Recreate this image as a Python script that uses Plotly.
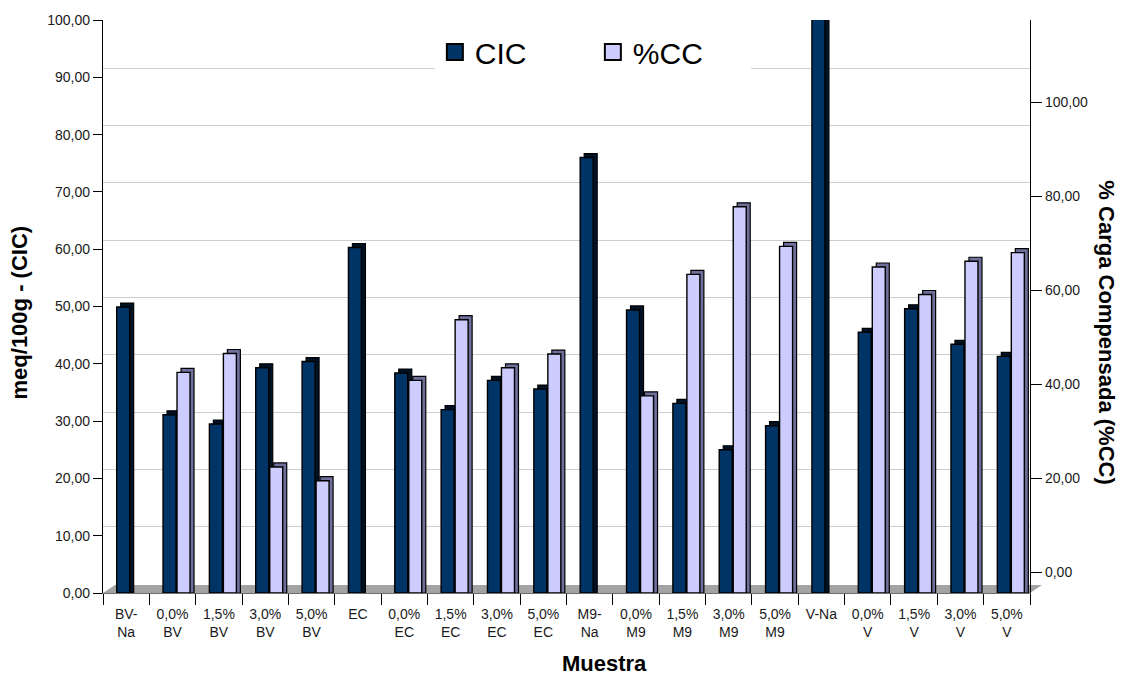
import plotly.graph_objects as go

# ---------------- data ----------------
categories = ["BV-<br>Na", "0,0%<br>BV", "1,5%<br>BV", "3,0%<br>BV", "5,0%<br>BV", "EC",
              "0,0%<br>EC", "1,5%<br>EC", "3,0%<br>EC", "5,0%<br>EC", "M9-<br>Na",
              "0,0%<br>M9", "1,5%<br>M9", "3,0%<br>M9", "5,0%<br>M9", "V-Na",
              "0,0%<br>V", "1,5%<br>V", "3,0%<br>V", "5,0%<br>V"]
cic = [49.9, 31.1, 29.5, 39.3, 40.4, 60.3,
       38.4, 32.0, 37.1, 35.6, 76.0,
       49.4, 33.1, 25.0, 29.2, 100.3,
       45.5, 49.6, 43.4, 41.3]
cc_pct = [None, 38.5, 41.8, 22.0, 19.6, None,
          37.1, 47.7, 39.3, 41.7, None,
          34.4, 55.6, 67.4, 60.5, None,
          56.9, 52.1, 57.9, 59.4]
left_ticks = [0, 10, 20, 30, 40, 50, 60, 70, 80, 90, 100]
right_ticks = [0, 20, 40, 60, 80, 100]

# ---------------- geometry / style ----------------
W, H = 1129, 675
L, R, T, B = 103, 1030, 17, 593
px_cat = (R - L) / len(categories)
px_unit = (B - T) / 100.0
depth = 4
dx = depth / px_cat
dy = depth / px_unit
bw = 13 / px_cat
off_cic = -9.5 / px_cat
off_cc = 4.5 / px_cat
grid_shift = 9 / px_unit
# right axis as drawn in the reference: 0 at y=572px, 100 at y=100px
r_zero_px, r_hundred_px = 572, 100
r_k = (r_zero_px - r_hundred_px) / 100.0
y2_range = [-(B - r_zero_px) / r_k, (r_zero_px - T) / r_k]

CIC_FRONT, CIC_SIDE = "#003366", "#001326"
CC_FRONT, CC_SIDE = "#ccccff", "#6f6f9c"
FONT = "Liberation Sans, Arial, sans-serif"
TXT = "#1a1a1a"


def shifted(vals):
    return [None if v is None else v + dy for v in vals]


fig = go.Figure()

# CIC side/top (depth) and front
fig.add_trace(go.Bar(x=categories, y=shifted(cic), offset=off_cic + dx, width=bw,
                     marker=dict(color=CIC_SIDE, line=dict(color="black", width=1.2)),
                     showlegend=False, cliponaxis=False, hoverinfo="skip"))
fig.add_trace(go.Bar(x=categories, y=cic, offset=off_cic, width=bw, name="CIC",
                     marker=dict(color=CIC_FRONT, line=dict(color="black", width=1.4)),
                     showlegend=False, cliponaxis=False))
# %CC side/top (depth) and front
fig.add_trace(go.Bar(x=categories, y=shifted(cc_pct), offset=off_cc + dx, width=bw,
                     marker=dict(color=CC_SIDE, line=dict(color="black", width=1.2)),
                     showlegend=False, cliponaxis=False, hoverinfo="skip"))
fig.add_trace(go.Bar(x=categories, y=cc_pct, offset=off_cc, width=bw, name="%CC",
                     marker=dict(color=CC_FRONT, line=dict(color="black", width=1.4)),
                     showlegend=False, cliponaxis=False))

# legend entries (also anchor the extra axes)
fig.add_trace(go.Scatter(x=[None], y=[None], mode="markers", name="CIC", yaxis="y2",
                         cliponaxis=False,
                         marker=dict(symbol="square", size=16, color=CIC_FRONT,
                                     line=dict(color="black", width=2))))
fig.add_trace(go.Scatter(x=[None], y=[None], mode="markers", name="%CC", yaxis="y3",
                         cliponaxis=False,
                         marker=dict(symbol="square", size=16, color=CC_FRONT,
                                     line=dict(color="black", width=2))))

# floor of the 3D chart
fx = 12 / (R - L)
fy = 8 / (B - T)
fig.add_shape(type="path", xref="paper", yref="paper",
              path=f"M 0,0 L 1,0 L {1 + fx},{fy} L {fx},{fy} Z",
              fillcolor="#a3a3a3", line=dict(width=0), layer="below")

fig.update_layout(
    width=W, height=H,
    margin=dict(l=L, r=W - R, t=T, b=H - B),
    paper_bgcolor="white", plot_bgcolor="white",
    barmode="overlay",
    separators=",.",
    font=dict(family=FONT, size=14, color=TXT),
    xaxis=dict(type="category", categoryorder="array", categoryarray=categories,
               range=[-0.5, len(categories) - 0.5],
               tickson="boundaries", ticks="outside", ticklen=11, tickcolor="black",
               ticklabelstandoff=8,
               showline=True, linecolor="#6e6e6e", linewidth=1,
               showgrid=False, zeroline=False,
               tickfont=dict(family=FONT, size=14, color=TXT)),
    yaxis=dict(range=[0, 100], tickvals=left_ticks, tickformat=".2f",
               ticks="outside", ticklen=9, tickcolor="black",
               showline=True, linecolor="black", linewidth=1.3,
               showgrid=False, zeroline=False,
               tickfont=dict(family=FONT, size=14, color=TXT)),
    yaxis2=dict(overlaying="y", side="right", anchor="x", range=y2_range,
                tickvals=right_ticks, tickformat=".2f",
                ticks="outside", ticklen=11, tickcolor="black",
                showline=True, linecolor="black", linewidth=1.3,
                showgrid=False, zeroline=False,
                tickfont=dict(family=FONT, size=14, color=TXT)),
    yaxis3=dict(overlaying="y", anchor="x", range=[-grid_shift, 100 - grid_shift],
                tickvals=left_ticks[1:], showticklabels=False, ticks="",
                showline=False, zeroline=False,
                showgrid=True, gridcolor="#cdcdcd", gridwidth=1),
    legend=dict(orientation="h", x=0.358, xanchor="left", y=0.944, yanchor="middle",
                bgcolor="white", borderwidth=0, entrywidth=113,
                font=dict(family=FONT, size=30, color="black"), itemsizing="trace"),
    annotations=[
        dict(text="<b>meq/100g - (CIC)</b>", xref="paper", yref="paper",
             x=(19 - L) / (R - L), y=(B - 311) / (B - T), textangle=-90,
             xanchor="center", yanchor="middle",
             showarrow=False, font=dict(family=FONT, size=22, color="black")),
        dict(text="<b>% Carga Compensada (%CC)</b>", xref="paper", yref="paper",
             x=(1107 - L) / (R - L), y=(B - 331) / (B - T), textangle=90,
             xanchor="center", yanchor="middle",
             showarrow=False, font=dict(family=FONT, size=22, color="black")),
        dict(text="<b>Muestra</b>", xref="paper", yref="paper",
             x=(604 - L) / (R - L), y=(B - 664) / (B - T),
             xanchor="center", yanchor="middle",
             showarrow=False, font=dict(family=FONT, size=22, color="black")),
    ],
)

fig.write_html("out.html")
